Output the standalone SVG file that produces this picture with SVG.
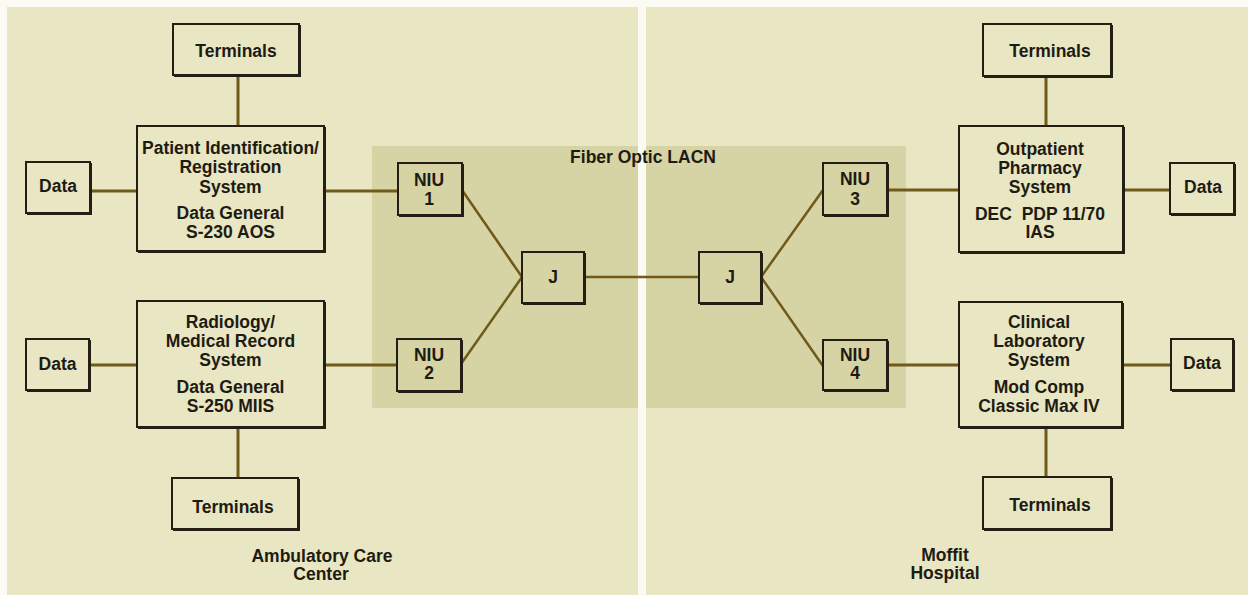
<svg xmlns="http://www.w3.org/2000/svg" width="1248" height="595" viewBox="0 0 1248 595">
<style>
.bx{fill:none;stroke:#231f14;stroke-width:2}
.sh{fill:none;stroke:#231f14;stroke-width:2}
.t{font-family:"Liberation Sans",Arial,sans-serif;font-weight:bold;font-size:17.5px;fill:#1e1b12;text-anchor:middle}
.c{fill:none;stroke:#6e5a19;stroke-width:3}
.d{fill:none;stroke:#6e5a19;stroke-width:2.5}
</style>
<rect x="0" y="0" width="1248" height="595" fill="#fbfbf4"/>
<rect x="7" y="7" width="631" height="588" fill="#e9e6c3"/>
<rect x="646" y="7" width="602" height="588" fill="#e9e6c3"/>
<rect x="372" y="146" width="266" height="262" fill="#d6d3a5"/>
<rect x="646" y="146" width="260" height="262" fill="#d6d3a5"/>
<text class="t" x="643" y="163">Fiber Optic LACN</text>
<text class="t" x="322" y="562">Ambulatory Care</text>
<text class="t" x="321" y="580">Center</text>
<text class="t" x="945" y="561">Moffit</text>
<text class="t" x="945" y="579">Hospital</text>
<g id="connectors">
<path class="c" d="M238 75V126"/>
<path class="c" d="M90 191H137"/>
<path class="c" d="M324 191H398"/>
<path class="c" d="M89 365H137"/>
<path class="c" d="M324 365H397"/>
<path class="c" d="M238 427V478"/>
<path class="d" d="M462 190L522 277"/>
<path class="d" d="M461 364L522 277"/>
<path class="d" d="M584 277H699"/>
<path class="d" d="M761 277L823 190"/>
<path class="d" d="M761 277L823 366"/>
<path class="c" d="M887 190H959"/>
<path class="c" d="M1123 190H1170"/>
<path class="c" d="M1046 76V126"/>
<path class="c" d="M887 365H959"/>
<path class="c" d="M1122 365H1171"/>
<path class="c" d="M1046 427V477"/>
</g>
<g id="terminals-1"><rect class="bx" x="173" y="24" width="126" height="51"/><path class="sh" d="M174 76H300V25"/><text class="t" x="236" y="57">Terminals</text></g>
<g id="data-1"><rect class="bx" x="26" y="162" width="64" height="51"/><path class="sh" d="M27 214H91V163"/><text class="t" x="58" y="192">Data</text></g>
<g id="patient-system"><rect class="bx" x="137" y="126" width="187" height="125"/><path class="sh" d="M138 252H325V127"/>
<text class="t" x="230.5" y="154">Patient Identification/</text>
<text class="t" x="230.5" y="173">Registration</text>
<text class="t" x="230.5" y="193">System</text>
<text class="t" x="230.5" y="219">Data General</text>
<text class="t" x="230.5" y="238">S-230 AOS</text></g>
<g id="data-2"><rect class="bx" x="26" y="339" width="63" height="51"/><path class="sh" d="M27 391H90V340"/><text class="t" x="57.5" y="370">Data</text></g>
<g id="radiology-system"><rect class="bx" x="137" y="301" width="187" height="126"/><path class="sh" d="M138 428H325V302"/>
<text class="t" x="230.5" y="328">Radiology/</text>
<text class="t" x="230.5" y="347">Medical Record</text>
<text class="t" x="230.5" y="366">System</text>
<text class="t" x="230.5" y="393">Data General</text>
<text class="t" x="230.5" y="412">S-250 MIIS</text></g>
<g id="terminals-2"><rect class="bx" x="172" y="478" width="126" height="51"/><path class="sh" d="M173 530H299V479"/><text class="t" x="233" y="512.5">Terminals</text></g>
<g id="niu-1"><rect class="bx" x="398" y="163" width="64" height="52"/><path class="sh" d="M399 216H463V164"/><text class="t" x="429" y="186">NIU</text><text class="t" x="429" y="205">1</text></g>
<g id="niu-2"><rect class="bx" x="397" y="339" width="64" height="52"/><path class="sh" d="M398 392H462V340"/><text class="t" x="429" y="361">NIU</text><text class="t" x="429" y="379">2</text></g>
<g id="j-1"><rect class="bx" x="522" y="252" width="62" height="51"/><path class="sh" d="M523 304H585V253"/><text class="t" x="553" y="283">J</text></g>
<g id="j-2"><rect class="bx" x="699" y="252" width="62" height="51"/><path class="sh" d="M700 304H762V253"/><text class="t" x="730" y="283">J</text></g>
<g id="niu-3"><rect class="bx" x="823" y="163" width="64" height="52"/><path class="sh" d="M824 216H888V164"/><text class="t" x="855" y="185">NIU</text><text class="t" x="855" y="205">3</text></g>
<g id="niu-4"><rect class="bx" x="823" y="340" width="64" height="50"/><path class="sh" d="M824 391H888V341"/><text class="t" x="855" y="361">NIU</text><text class="t" x="855" y="379">4</text></g>
<g id="terminals-3"><rect class="bx" x="983" y="24" width="128" height="52"/><path class="sh" d="M984 77H1112V25"/><text class="t" x="1050" y="57">Terminals</text></g>
<g id="pharmacy-system"><rect class="bx" x="959" y="126" width="164" height="126"/><path class="sh" d="M960 253H1124V127"/>
<text class="t" x="1040" y="155">Outpatient</text>
<text class="t" x="1040" y="174">Pharmacy</text>
<text class="t" x="1040" y="193">System</text>
<text class="t" x="1040" y="220" xml:space="preserve">DEC  PDP 11/70</text>
<text class="t" x="1040" y="238">IAS</text></g>
<g id="data-3"><rect class="bx" x="1170" y="163" width="64" height="51"/><path class="sh" d="M1171 215H1235V164"/><text class="t" x="1203" y="193">Data</text></g>
<g id="lab-system"><rect class="bx" x="959" y="302" width="163" height="125"/><path class="sh" d="M960 428H1123V303"/>
<text class="t" x="1039" y="328">Clinical</text>
<text class="t" x="1039" y="347">Laboratory</text>
<text class="t" x="1039" y="366">System</text>
<text class="t" x="1039" y="393">Mod Comp</text>
<text class="t" x="1039" y="412">Classic Max IV</text></g>
<g id="data-4"><rect class="bx" x="1171" y="339" width="62" height="51"/><path class="sh" d="M1172 391H1234V340"/><text class="t" x="1202" y="369">Data</text></g>
<g id="terminals-4"><rect class="bx" x="983" y="477" width="128" height="52"/><path class="sh" d="M984 530H1112V478"/><text class="t" x="1050" y="511">Terminals</text></g>
</svg>
